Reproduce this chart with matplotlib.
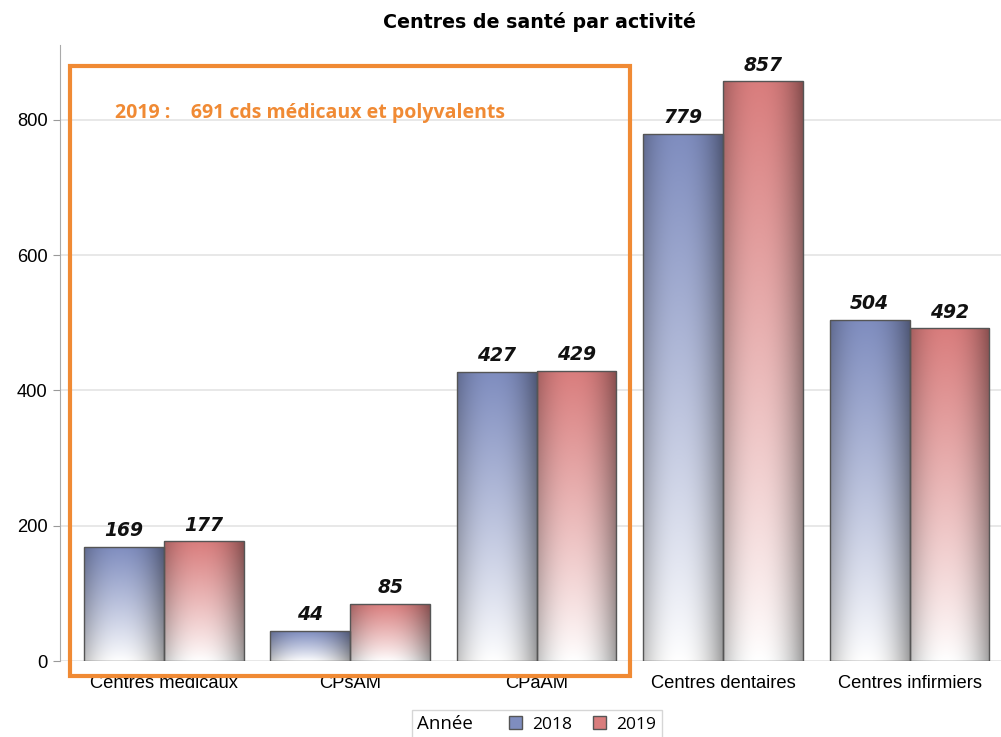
import numpy as np
import matplotlib
matplotlib.use("Agg")
import matplotlib.pyplot as plt
from matplotlib.patches import Rectangle, Patch
from matplotlib.colors import to_rgb
from matplotlib.offsetbox import HPacker

categories = ["Centres médicaux", "CPsAM", "CPaAM", "Centres dentaires", "Centres infirmiers"]
years = ["2018", "2019"]
values_2018 = [169, 44, 427, 779, 504]
values_2019 = [177, 85, 429, 857, 492]
yticks = [0, 200, 400, 600, 800]
title = "Centres de santé par activité"
annotation = "2019 :    691 cds médicaux et polyvalents"
legend_title = "Année"

colors = ["#7F8DBF", "#D97D7D"]
orange = "#F08A34"

fig = plt.figure(figsize=(10.01, 7.37), dpi=100)
ax = fig.add_axes([0.06, 0.1031, 0.94, 0.836])

x = np.arange(len(categories))
w = 0.428
ax.set_xlim(-0.556, 4.49)
ax.set_ylim(0, 911)


def gradient_bar(rect, color):
    base = np.array(to_rgb(color))
    nx, ny = 80, 200
    u = np.linspace(0, 1, nx)
    t = np.linspace(0, 1, ny)[:, None]
    vert = t ** 0.9
    img = (1 - vert)[..., None] * np.ones(3) + vert[..., None] * base
    img = np.broadcast_to(img, (ny, nx, 3)).copy()
    shade = 1 - 0.38 * np.abs((u - 0.45) / 0.55) ** 2.2
    img = img * shade[None, :, None]
    img = np.clip(img, 0, 1)
    x0, y0 = rect.get_x(), rect.get_y()
    im = ax.imshow(img, extent=[x0, x0 + rect.get_width(), y0, y0 + rect.get_height()],
                   origin="lower", aspect="auto", interpolation="bilinear", zorder=2)
    im.set_clip_path(rect)


for i, (vals, col) in enumerate(zip([values_2018, values_2019], colors)):
    bars = ax.bar(x + (i - 0.5) * w, vals, width=w, facecolor="none",
                  edgecolor="#555555", linewidth=1.0, zorder=3)
    for rect, v in zip(bars, vals):
        gradient_bar(rect, col)
        ax.text(rect.get_x() + rect.get_width() / 2, v + 10, str(v), ha="center", va="bottom",
                fontsize=13.5, fontweight="bold", fontstyle="italic", family="DejaVu Sans",
                color="#111111", zorder=4)

ax.set_xticks(x)
ax.set_xticklabels(categories, fontsize=13.2, family="Liberation Sans")
ax.set_yticks(yticks)
ax.set_yticklabels([str(v) for v in yticks], fontsize=13.2, family="Liberation Sans")
ax.tick_params(axis="x", length=0, pad=10)
ax.tick_params(axis="y", length=5, color="#999999", pad=4)
for s in ["top", "right", "bottom"]:
    ax.spines[s].set_visible(False)
ax.spines["left"].set_color("#AAAAAA")
ax.grid(axis="y", color="#E4E4E4", linewidth=1.2, zorder=0)
ax.set_axisbelow(True)

ax.set_title(title, fontsize=13.7, fontweight="bold", family="DejaVu Sans", pad=12, x=0.509)

# orange highlight frame
frame = Rectangle((-0.503, -22), 3.006, 902, fill=False, edgecolor=orange,
                  linewidth=3.0, clip_on=False, zorder=5)
ax.add_patch(frame)
ax.text(-0.262, 810, annotation, color=orange, fontsize=14, fontweight="bold",
        family="Open Sans", ha="left", va="center", zorder=5)

handles = [Patch(facecolor=colors[0], edgecolor="#555555"),
           Patch(facecolor=colors[1], edgecolor="#555555")]
leg = fig.legend(handles, years, ncol=2, loc="lower center", title=legend_title,
                 bbox_to_anchor=(0.536, -0.014), frameon=True, fancybox=False,
                 handlelength=0.75, handleheight=0.75, handletextpad=0.6,
                 columnspacing=1.2, borderpad=0.3, prop={"family": "Open Sans", "size": 12.5},
                 title_fontproperties={"family": "Open Sans", "size": 13.5})
try:
    leg._legend_box.__class__ = HPacker
    leg._legend_box.sep = 26
    leg._legend_box.align = "center"
except Exception:
    pass
leg.get_frame().set_edgecolor("#CCCCCC")
leg.get_frame().set_linewidth(1.0)

fig.savefig("out.png", dpi=100)
